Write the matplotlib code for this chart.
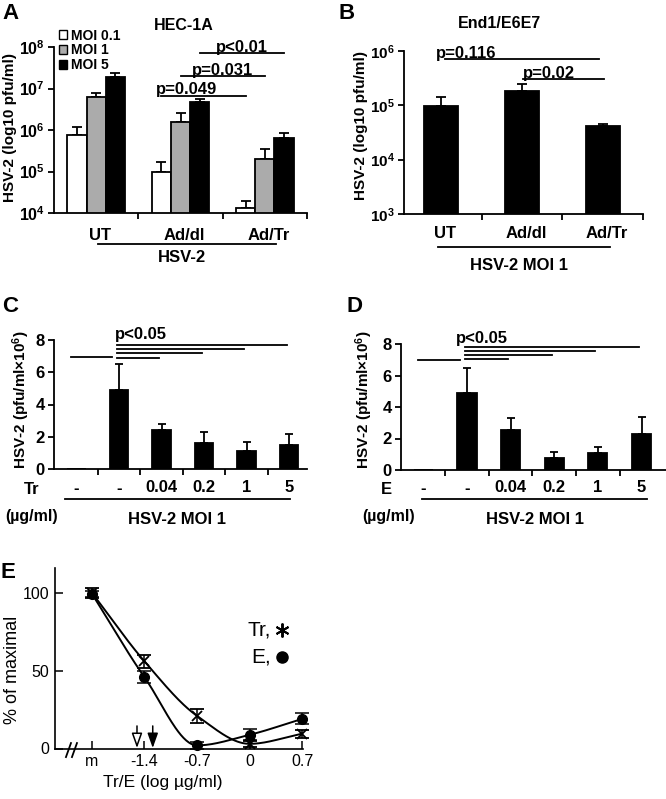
import numpy as np
import matplotlib.pyplot as plt
from matplotlib.patches import Patch
from matplotlib.transforms import blended_transform_factory

plt.rcParams['font.family'] = ['Liberation Sans', 'DejaVu Sans']
plt.rcParams['font.weight'] = 'bold'
plt.rcParams['mathtext.fontset'] = 'custom'
plt.rcParams['mathtext.rm'] = 'Liberation Sans:bold'
plt.rcParams['mathtext.bf'] = 'Liberation Sans:bold'
plt.rcParams['mathtext.it'] = 'Liberation Sans:bold:italic'
plt.rcParams['axes.linewidth'] = 1.3

W, H = 666, 799

# ---- data ----
# A: HEC-1A
a_groups = ['UT', 'Ad/dl', 'Ad/Tr']
a_moi = ['MOI 0.1', 'MOI 1', 'MOI 5']
a_colors = ['white', '#ababab', 'black']
a_vals = [[7.6e5, 9.5e4, 1.3e4],
          [6.1e6, 1.6e6, 2.0e5],
          [1.9e7, 4.6e6, 6.3e5]]
a_err = [[4.4e5, 7.2e4, 7.0e3],
         [1.8e6, 1.0e6, 1.5e5],
         [5.0e6, 9.0e5, 2.3e5]]
a_sig_text = ['p=0.049', 'p=0.031', 'p<0.01']
a_sig_y = [6.7e6, 2.0e7, 7.2e7]

# B: End1/E6E7
b_groups = ['UT', 'Ad/dl', 'Ad/Tr']
b_vals = [9.7e4, 1.86e5, 4.17e4]
b_err = [4.3e4, 6.0e4, 3.0e3]
b_sig_text = ['p=0.116', 'p=0.02']
b_sig_pairs = [(0, 2), (1, 2)]
b_sig_y = [7.1e5, 3.05e5]

# C / D: dose series
dose_labels = ['-', '-', '0.04', '0.2', '1', '5']
c_vals = [0, 4.9, 2.43, 1.6, 1.09, 1.46]
c_err = [0, 1.6, 0.35, 0.69, 0.56, 0.70]
c_ctrl_y = 6.97
c_sig_y = [6.87, 7.18, 7.44, 7.67]
d_vals = [0, 4.91, 2.54, 0.78, 1.06, 2.29]
d_err = [0, 1.54, 0.78, 0.38, 0.38, 1.10]
d_ctrl_y = 6.98
d_sig_y = [7.03, 7.30, 7.58, 7.83]

# E: dose response
e_ticks = ['m', '-1.4', '-0.7', '0', '0.7']
e_x = [-2.1, -1.4, -0.7, 0.0, 0.7]
tr_pct = [100, 56, 21, 3, 9.5]
tr_sd = [3, 4, 4.3, 2, 2.5]
e_pct = [99.4, 45.8, 2, 8.8, 19]
e_sd = [2, 3.8, 2, 3.5, 3.5]
ic50_x = [-1.5, -1.29]   # open (E), filled (Tr)

fig = plt.figure(figsize=(W / 100, H / 100), dpi=100)


def add_ax(x0, y0, x1, y1):
    return fig.add_axes([x0 / W, 1 - y1 / H, (x1 - x0) / W, (y1 - y0) / H])


def fy(y):
    return 1 - y / H


def style(ax, size=12):
    for s in ['top', 'right']:
        ax.spines[s].set_visible(False)
    ax.tick_params(direction='out', length=4, width=1.3, labelsize=size, pad=2.5)


def decades(ax, lo, hi):
    ax.set_yscale('log')
    ax.set_ylim(10.0 ** lo, 10.0 ** hi)
    ax.set_yticks([10.0 ** k for k in range(lo, hi + 1)])
    ax.set_yticklabels([r'$10^{%d}$' % k for k in range(lo, hi + 1)])
    ax.yaxis.set_minor_locator(plt.NullLocator())


def under(ax, x0, x1, y, text, tx, ty):
    tr = blended_transform_factory(ax.transData, fig.transFigure)
    ax.plot([x0, x1], [fy(y), fy(y)], color='k', lw=1.3, transform=tr, clip_on=False)
    ax.text(tx, fy(ty), text, transform=tr, ha='center', va='center', fontsize=12)


def cat_labels(ax, xs, labels, y, size=12):
    tr = blended_transform_factory(ax.transData, fig.transFigure)
    for x, lab in zip(xs, labels):
        ax.text(x, fy(y), lab, transform=tr, ha='center', va='center', fontsize=size)


def upper_err(ax, x, v, e, cap=3.5):
    ax.errorbar(x, v, yerr=[[0], [e]], fmt='none', ecolor='k', elinewidth=1.3,
                capsize=cap, capthick=1.3, zorder=1)


# ---- panel A ----
ax = add_ax(54, 47, 307, 213)
style(ax, 11.5)
decades(ax, 4, 8)
ax.set_xlim(-0.5, 2.5)
ax.set_xticks([0.5, 1.5, 2.5])
ax.set_xticklabels([])
bw = 0.227
xg = np.arange(len(a_groups))
for i in range(3):
    xs = xg + (i - 1) * bw
    ax.bar(xs, a_vals[i], bw, color=a_colors[i], edgecolor='k', lw=1.3, zorder=2)
    for x, v, e in zip(xs, a_vals[i], a_err[i]):
        upper_err(ax, x, v, e)
for i in range(3):
    x1, x2 = 1 + (i - 1) * bw, 2 + (i - 1) * bw
    ax.plot([x1, x2], [a_sig_y[i]] * 2, color='k', lw=1.3, clip_on=False)
    ax.annotate(a_sig_text[i], ((x1 + x2) / 2 - (0.2 if i == 0 else 0), a_sig_y[i]),
                xytext=(0, 1), textcoords='offset points', ha='center', va='baseline',
                fontsize=12, annotation_clip=False)
handles = [Patch(facecolor=c, edgecolor='k', lw=1) for c in a_colors]
ax.legend(handles, a_moi, loc='upper left', bbox_to_anchor=(0.02, 1.11), frameon=False,
          fontsize=10, handlelength=0.6, handleheight=0.6, handletextpad=0.25,
          labelspacing=0.05, borderpad=0, borderaxespad=0)
cat_labels(ax, xg + 0.05, a_groups, 235)
under(ax, 0.02, 2.13, 244, 'HSV-2', 1.02, 257)
fig.text(184 / W, fy(25), 'HEC-1A', ha='center', va='center', fontsize=11.5)
fig.text(10 / W, fy(127), 'HSV-2 (log10 pfu/ml)', rotation=90, ha='center', va='center', fontsize=11)
fig.text(2 / W, fy(3), 'A', ha='left', va='top', fontsize=16)

# ---- panel B ----
ax = add_ax(404, 51, 643, 214)
style(ax, 11)
decades(ax, 3, 6)
ax.set_xlim(-0.46, 2.5)
ax.set_xticks([0.5, 1.5, 2.5])
ax.set_xticklabels([])
xb = np.arange(len(b_groups))
ax.bar(xb, b_vals, 0.42, color='k', edgecolor='k', lw=1.3, zorder=2)
for x, v, e in zip(xb, b_vals, b_err):
    upper_err(ax, x, v, e)
for (i, j), y, t in zip(b_sig_pairs, b_sig_y, b_sig_text):
    x1, x2 = i + (0.05 if i == 0 else 0.01), j + (-0.04 if i == 0 else 0.02)
    ax.plot([x1, x2], [y, y], color='k', lw=1.3, clip_on=False)
    ax.annotate(t, (x1 - (0.11 if i == 0 else 0), y), xytext=(0, 1),
                textcoords='offset points', ha='left', va='baseline', fontsize=12,
                annotation_clip=False)
cat_labels(ax, xb + 0.05, b_groups, 233)
under(ax, -0.04, 2.09, 247, 'HSV-2 MOI 1', 0.96, 265)
fig.text(500 / W, fy(24), 'End1/E6E7', ha='center', va='center', fontsize=11.5)
fig.text(361 / W, fy(125), 'HSV-2 (log10 pfu/ml)', rotation=90, ha='center', va='center', fontsize=11)
fig.text(338 / W, fy(3), 'B', ha='left', va='top', fontsize=16)


# ---- panels C and D ----
def dose_panel(box, xlim, vals, err, ctrl_y, sig_y, drug, letter, lx, under_px,
               ylab_x, ptext_x, drug_x, unit_x, mol_x):
    ax = add_ax(*box)
    style(ax)
    ax.set_xlim(*xlim)
    ax.set_ylim(0, 8)
    ax.set_yticks([0, 2, 4, 6, 8])
    ax.set_xticks(np.arange(0.5, 5, 1))
    ax.set_xticklabels([])
    xs = np.arange(len(vals))
    ax.bar(xs, vals, 0.44, color='k', edgecolor='k', lw=1.3, zorder=2)
    for x, v, e in zip(xs, vals, err):
        if v > 0:
            upper_err(ax, x, v, e, cap=3)
    ax.plot([-0.12, 0.84], [ctrl_y] * 2, color='k', lw=1.3, clip_on=False)
    for k, y in enumerate(sig_y):
        ax.plot([0.95, k + 2 - 0.06], [y, y], color='k', lw=1.3, clip_on=False)
    ax.text(ptext_x, 8.05, 'p<0.05', ha='left', va='baseline', fontsize=12)
    cat_labels(ax, xs, dose_labels, 488)
    tr = blended_transform_factory(ax.transData, fig.transFigure)
    ax.plot(under_px, [fy(499)] * 2, color='k', lw=1.3, transform=tr, clip_on=False)
    fig.text(mol_x / W, fy(520), 'HSV-2 MOI 1', ha='center', va='center', fontsize=12)
    fig.text(drug_x / W, fy(489), drug, ha='center', va='center', fontsize=12)
    fig.text(unit_x / W, fy(516), '(µg/ml)', ha='left', va='center', fontsize=11.5)
    fig.text(ylab_x / W, fy(400), 'HSV-2 (pfu/ml×$10^{6}$)', rotation=90,
             ha='center', va='center', fontsize=11)
    fig.text(lx / W, fy(296), letter, ha='left', va='top', fontsize=16)


dose_panel((54, 340, 307, 469), (-0.53, 5.42), c_vals, c_err, c_ctrl_y, c_sig_y,
           'Tr', 'C', 2, [-0.27, 5.02], 21, 0.9, 32, 5, 177)
dose_panel((401, 344, 666, 470), (-0.51, 5.56), d_vals, d_err, d_ctrl_y, d_sig_y,
           'E', 'D', 347, [-0.03, 5.13], 364, 0.75, 386, 362, 535)

# ---- panel E ----
ax = add_ax(55, 568, 303, 748.5)
for s in ['top', 'right']:
    ax.spines[s].set_visible(False)
ax.spines['left'].set_linewidth(1.2)
ax.spines['bottom'].set_linewidth(1.2)
ax.set_xlim(-2.593, 0.713)
ax.set_ylim(0, 116)
ax.set_yticks([0, 50, 100])
ax.set_xticks(e_x)
ax.set_xticklabels(e_ticks)
ax.tick_params(direction='in', length=6, width=1.1, labelsize=11.5, pad=4)
for lab in ax.get_xticklabels() + ax.get_yticklabels():
    lab.set_fontweight('normal')


def pchip(x, y, n=40):
    x = np.asarray(x, float)
    y = np.asarray(y, float)
    h = np.diff(x)
    d = np.diff(y) / h
    m = np.zeros_like(y)
    m[0], m[-1] = d[0], d[-1]
    for k in range(1, len(x) - 1):
        if d[k - 1] * d[k] > 0:
            w1, w2 = 2 * h[k] + h[k - 1], h[k] + 2 * h[k - 1]
            m[k] = (w1 + w2) / (w1 / d[k - 1] + w2 / d[k])
    xs, ys = [], []
    for k in range(len(x) - 1):
        t = np.linspace(0, 1, n)
        h00 = 2 * t**3 - 3 * t**2 + 1
        h10 = t**3 - 2 * t**2 + t
        h01 = -2 * t**3 + 3 * t**2
        h11 = t**3 - t**2
        xs.append(x[k] + t * h[k])
        ys.append(h00 * y[k] + h10 * h[k] * m[k] + h01 * y[k + 1] + h11 * h[k] * m[k + 1])
    return np.concatenate(xs), np.concatenate(ys)


for vals in (tr_pct, e_pct):
    sx, sy = pchip(e_x, vals)
    ax.plot(sx, sy, color='k', lw=1.4, clip_on=False)
ax.errorbar(e_x, tr_pct, yerr=tr_sd, fmt='x', color='k', ms=7, mew=1.3,
            elinewidth=1.1, capsize=5, capthick=1.1, clip_on=False)
ax.errorbar(e_x, e_pct, yerr=e_sd, fmt='o', color='k', ms=7,
            elinewidth=1.1, capsize=5, capthick=1.1, clip_on=False)
for x, fc in zip(ic50_x, ['white', 'black']):
    ax.annotate('', xy=(x, 0.3), xytext=(x, 14.5),
                arrowprops=dict(arrowstyle='-|>,head_length=0.9,head_width=0.32',
                                fc=fc, ec='k', lw=1.1, shrinkA=0, shrinkB=0))
for x0 in (-2.447, -2.367):
    ax.plot([x0, x0 + 0.067], [-5.5, 3.5], color='k', lw=1.3, clip_on=False)

# legend for E as text + markers
fig.text(271 / W, fy(630), 'Tr,', fontsize=15, fontweight='normal', ha='right', va='center')
fig.text(271 / W, fy(657), 'E,', fontsize=15, fontweight='normal', ha='right', va='center')
ax.plot([282 / W], [fy(630)], marker=(6, 2, 0), ms=10, mew=1.4, color='k',
        transform=fig.transFigure, clip_on=False)
ax.plot([282 / W], [fy(657)], marker='o', ms=8, color='k',
        transform=fig.transFigure, clip_on=False)

fig.text(163 / W, fy(783), 'Tr/E (log µg/ml)', ha='center', va='center', fontsize=12.5,
         fontweight='normal')
fig.text(13 / W, fy(670), '% of maximal', rotation=90, ha='center', va='center',
         fontsize=13, fontweight='normal')
fig.text(0, fy(562), 'E', ha='left', va='top', fontsize=16)

fig.savefig('out.png', dpi=100)
